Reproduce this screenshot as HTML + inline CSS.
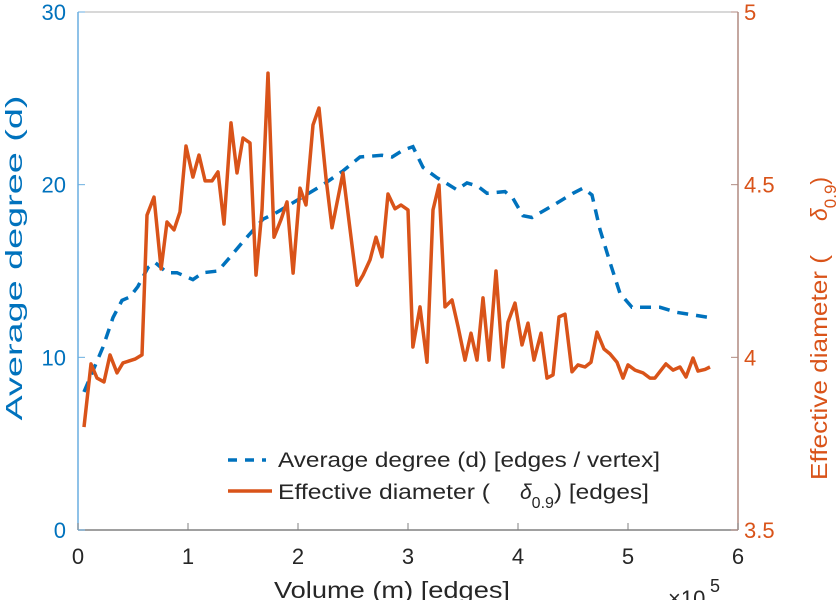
<!DOCTYPE html>
<html><head><meta charset="utf-8"><style>
body{margin:0;background:#fff;}
svg{display:block;font-family:"Liberation Sans",sans-serif;}
</style></head><body>
<svg id="chart" width="838" height="600" viewBox="0 0 838 600" xmlns="http://www.w3.org/2000/svg">
<g id="axes"></g>
<g id="series"></g>
<g id="legend">
  <line x1="228" y1="460" x2="266" y2="460" stroke="#0072BD" stroke-width="3.5" stroke-dasharray="9,8"/>
  <text x="278" y="467" font-size="21" fill="#262626" textLength="382" lengthAdjust="spacingAndGlyphs">Average degree (d) [edges / vertex]</text>
  <line x1="228" y1="491" x2="272" y2="491" stroke="#D95319" stroke-width="3.5"/>
  <text x="278" y="499" font-size="21" fill="#262626" textLength="212" lengthAdjust="spacingAndGlyphs">Effective diameter (</text>
  <text x="520" y="499" font-size="21" fill="#262626"><tspan font-style="italic">δ</tspan><tspan font-size="16" dy="9">0.9</tspan><tspan dy="-9" textLength="95" lengthAdjust="spacingAndGlyphs">) [edges]</tspan></text>
</g>
</svg>
<script>
const xTicks=[0,1,2,3,4,5,6];
const leftTicks=[0,10,20,30];
const rightTicks=[3.5,4,4.5,5];
const degX=[0.055,0.227,0.318,0.4,0.473,0.545,0.636,0.7,0.809,0.9,1.045,1.136,1.273,1.382,1.5,1.682,1.809,2.045,2.227,2.409,2.564,2.764,2.855,2.955,3.045,3.136,3.264,3.318,3.445,3.536,3.636,3.718,3.882,3.955,4.045,4.127,4.318,4.5,4.591,4.673,4.745,4.836,4.927,5.036,5.291,5.445,5.745];
const degY=[8.0,10.6,12.3,13.3,13.5,14.1,15.2,15.5,14.9,14.9,14.5,14.9,15.0,15.8,16.7,18.0,18.4,19.3,20.0,20.8,21.6,21.7,21.6,22.0,22.2,21.0,20.4,20.2,19.7,20.1,19.9,19.5,19.6,19.2,18.2,18.1,18.8,19.5,19.8,19.4,17.4,15.5,13.7,12.9,12.9,12.6,12.3];
const diaX=[0.055,0.118,0.173,0.236,0.291,0.355,0.409,0.518,0.582,0.627,0.691,0.755,0.809,0.873,0.927,0.982,1.045,1.1,1.155,1.218,1.273,1.327,1.391,1.445,1.5,1.564,1.618,1.673,1.727,1.782,1.845,1.9,1.955,2.018,2.073,2.136,2.191,2.255,2.309,2.409,2.536,2.591,2.655,2.709,2.764,2.818,2.882,2.936,3.0,3.045,3.109,3.173,3.227,3.282,3.336,3.4,3.455,3.518,3.573,3.627,3.682,3.736,3.8,3.864,3.909,3.973,4.036,4.091,4.145,4.209,4.264,4.318,4.373,4.427,4.491,4.545,4.609,4.664,4.718,4.782,4.836,4.9,4.955,5.0,5.064,5.136,5.2,5.245,5.345,5.409,5.473,5.527,5.591,5.636,5.7,5.745];
const diaY=[3.798,3.981,3.94,3.929,4.007,3.955,3.984,3.995,4.007,4.412,4.464,4.256,4.392,4.369,4.421,4.612,4.522,4.586,4.511,4.511,4.537,4.386,4.679,4.534,4.635,4.621,4.238,4.427,4.823,4.348,4.398,4.45,4.244,4.49,4.441,4.673,4.722,4.519,4.375,4.534,4.209,4.238,4.282,4.348,4.291,4.473,4.43,4.441,4.427,4.03,4.146,3.986,4.427,4.499,4.146,4.166,4.088,3.992,4.07,3.992,4.172,3.992,4.25,3.972,4.102,4.157,4.036,4.099,3.992,4.07,3.94,3.949,4.117,4.125,3.958,3.978,3.972,3.986,4.073,4.024,4.01,3.986,3.94,3.978,3.963,3.955,3.94,3.94,3.981,3.963,3.972,3.943,3.998,3.96,3.965,3.972];

const X0=78,X1=738,Y0=530,Y1=12;
const sx=v=>X0+(v-0)/(6-0)*(X1-X0);
const syL=v=>Y0-(v-0)/(30-0)*(Y0-Y1);
const syR=v=>Y0-(v-3.5)/(5-3.5)*(Y0-Y1);
const NS="http://www.w3.org/2000/svg";
function mk(tag,attrs,parent,txt){const e=document.createElementNS(NS,tag);for(const k in attrs)e.setAttribute(k,attrs[k]);if(txt!==undefined)e.textContent=txt;parent.appendChild(e);return e;}
const axes=document.getElementById('axes'),series=document.getElementById('series');

let e;
e=mk('line',{x1:X0,y1:Y1,x2:X1,y2:Y1,stroke:'#b0b0b0','stroke-width':1},axes);


e=mk('line',{x1:X0,y1:Y0,x2:X1,y2:Y0,stroke:'#808080','stroke-width':1.5},axes);


e=mk('line',{x1:X0,y1:Y1,x2:X0,y2:Y0,stroke:'#6aaee0','stroke-width':1.5},axes);


e=mk('line',{x1:X1,y1:Y1,x2:X1,y2:Y0,stroke:'#b08a80','stroke-width':1.5},axes);



xTicks.forEach(t=>{
  const x=sx(t);
  let l=mk('line',{x1:x,y1:Y0,x2:x,y2:Y0-7,stroke:'#808080','stroke-width':1},axes);
  
  
  let tx=mk('text',{x:x,y:Y0+34,'font-size':22,fill:'#262626','text-anchor':'middle'},axes,String(t));
  
  
});
leftTicks.forEach(t=>{
  const y=syL(t);
  let l=mk('line',{x1:X0,y1:y,x2:X0+7,y2:y,stroke:'#6aaee0','stroke-width':1},axes);
  
  
  let tx=mk('text',{x:X0-12,y:y+8,'font-size':22,fill:'#0072BD','text-anchor':'end'},axes,String(t));
  
  
});
rightTicks.forEach(t=>{
  const y=syR(t);
  let l=mk('line',{x1:X1,y1:y,x2:X1-7,y2:y,stroke:'#b08a80','stroke-width':1},axes);
  
  
  let tx=mk('text',{x:X1+6,y:y+8,'font-size':22,fill:'#D95319','text-anchor':'start'},axes,String(t));
  
  
});
e=mk('text',{x:274,y:598,'font-size':23,fill:'#262626',textLength:236,lengthAdjust:'spacingAndGlyphs'},axes,'Volume (m) [edges]');


e=mk('text',{x:668,y:606,'font-size':22,fill:'#262626'},axes,'×10');


e=mk('text',{x:710,y:592,'font-size':18,fill:'#262626'},axes,'5');


e=mk('text',{x:0,y:0,'font-size':23,fill:'#0072BD','text-anchor':'middle',textLength:325,lengthAdjust:'spacingAndGlyphs',transform:'translate(22,258) rotate(-90)'},axes,'Average degree (d)');


e=mk('text',{x:0,y:0,'font-size':23,fill:'#D95319','text-anchor':'start',transform:'translate(827,480) rotate(-90)'},axes);


e.innerHTML='<tspan textLength="225" lengthAdjust="spacingAndGlyphs">Effective diameter (</tspan><tspan dx="34" font-style="italic">δ</tspan><tspan font-size="17" dy="9">0.9</tspan><tspan dy="-9">)</tspan>';

let dp=degX.map((v,i)=>sx(v).toFixed(1)+','+syL(degY[i]).toFixed(1)).join(' ');
e=mk('polyline',{points:dp,fill:'none',stroke:'#0072BD','stroke-width':3.5,'stroke-dasharray':'11,8'},series);


let op=diaX.map((v,i)=>sx(v).toFixed(1)+','+syR(diaY[i]).toFixed(1)).join(' ');
e=mk('polyline',{points:op,fill:'none',stroke:'#D95319','stroke-width':3.5,'stroke-linejoin':'round'},series);


</script>
</body></html>
